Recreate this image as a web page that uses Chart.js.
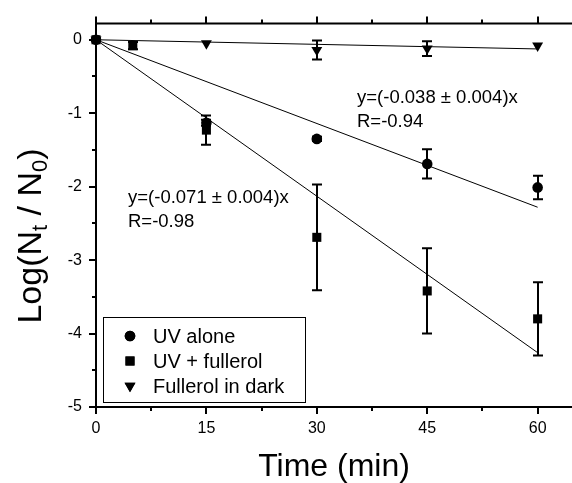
<!DOCTYPE html>
<html>
<head>
<meta charset="utf-8">
<script src="https://cdn.jsdelivr.net/npm/chart.js@4.4.1/dist/chart.umd.min.js"></script>
<style>
  html, body { margin: 0; padding: 0; background: #fff; }
  #wrap { width: 572px; height: 483px; position: relative; }
</style>
</head>
<body>
<div id="wrap"><canvas id="c"></canvas></div>
<script>
const FONT = '"Liberation Sans", Arial, sans-serif';

// axes
const xTicks = [0, 15, 30, 45, 60];
const xMinor = [7.5, 22.5, 37.5, 52.5];
const yTicks = [0, -1, -2, -3, -4, -5];
const yMinor = [-0.5, -1.5, -2.5, -3.5, -4.5];

// UV alone (circles)
const uvTime = [0, 15, 30, 45, 60];
const uvLog  = [0, -1.13, -1.35, -1.69, -2.01];
const uvErr  = [0, 0.04, 0.03, 0.20, 0.16];

// UV + fullerol (squares)
const fulTime = [0, 5, 15, 30, 45, 60];
const fulLog  = [0, -0.08, -1.23, -2.69, -3.42, -3.80];
const fulErr  = [0, 0.05, 0.20, 0.72, 0.58, 0.50];

// Fullerol in dark (down triangles)
const darkTime = [0, 15, 30, 45, 60];
const darkLog  = [0, -0.05, -0.14, -0.12, -0.08];
const darkErr  = [0, 0, 0.13, 0.10, 0];

// linear fits through origin
const fitTime = [0, 60];
const fitUv   = [0, -2.28];
const fitFul  = [0, -4.26];
const fitDark = [0, -0.125];

const legendItems = [
  { text: 'UV alone', style: 'circle', radius: 5.3, rotation: 0 },
  { text: 'UV + fullerol', style: 'rect', radius: 6.4, rotation: 0 },
  { text: 'Fullerol in dark', style: 'triangle', radius: 6.3, rotation: 180 },
];
const notes = [
  { lines: ['y=(-0.038 \u00b1 0.004)x', 'R=-0.94'], x: 357, y: 98 },
  { lines: ['y=(-0.071 \u00b1 0.004)x', 'R=-0.98'], x: 128, y: 198 },
];

const pts = (xs, ys) => xs.map((x, i) => ({ x, y: ys[i] }));

// frame + outward ticks (major and minor)
const frame = {
  id: 'frame',
  afterDraw(chart) {
    const { ctx, chartArea: a, scales: { x, y } } = chart;
    ctx.save();
    ctx.strokeStyle = '#000';
    ctx.lineWidth = 2;
    ctx.beginPath();
    ctx.moveTo(a.left, a.top); ctx.lineTo(chart.width, a.top);
    ctx.moveTo(a.left, a.top); ctx.lineTo(a.left, a.bottom);
    ctx.moveTo(a.left - 1, a.bottom); ctx.lineTo(chart.width, a.bottom);
    const xt = (v, len) => {
      const px = Math.round(x.getPixelForValue(v));
      ctx.moveTo(px, a.bottom); ctx.lineTo(px, a.bottom + len);
      ctx.moveTo(px, a.top); ctx.lineTo(px, a.top - len);
    };
    const yt = (v, len) => {
      const py = Math.round(y.getPixelForValue(v));
      ctx.moveTo(a.left, py); ctx.lineTo(a.left - len, py);
    };
    xTicks.forEach(v => xt(v, 7));
    xMinor.forEach(v => xt(v, 4));
    yTicks.forEach(v => yt(v, 7));
    yMinor.forEach(v => yt(v, 4));
    ctx.stroke();
    ctx.restore();
  }
};

const errorBars = {
  id: 'errorBars',
  afterDatasetsDraw(chart) {
    const { ctx, scales: { x, y } } = chart;
    ctx.save();
    ctx.strokeStyle = '#000';
    ctx.lineWidth = 2;
    chart.data.datasets.forEach(ds => {
      if (!ds.errors) return;
      ds.data.forEach((p, i) => {
        const e = ds.errors[i];
        if (!e) return;
        const px = Math.round(x.getPixelForValue(p.x));
        const top = y.getPixelForValue(p.y + e);
        const bot = y.getPixelForValue(p.y - e);
        ctx.beginPath();
        ctx.moveTo(px, top); ctx.lineTo(px, bot);
        ctx.moveTo(px - 5, top); ctx.lineTo(px + 5, top);
        ctx.moveTo(px - 5, bot); ctx.lineTo(px + 5, bot);
        ctx.stroke();
      });
    });
    ctx.restore();
  }
};

const texts = {
  id: 'texts',
  afterDraw(chart) {
    const { ctx } = chart;
    ctx.save();
    ctx.fillStyle = '#000';
    ctx.textBaseline = 'middle';

    // fit annotations
    ctx.font = '18.5px ' + FONT;
    ctx.textAlign = 'left';
    notes.forEach(n => n.lines.forEach((t, i) => ctx.fillText(t, n.x, n.y + i * 24)));

    // legend box
    ctx.strokeStyle = '#000';
    ctx.lineWidth = 1;
    ctx.strokeRect(103.5, 317.5, 202, 85);
    ctx.font = '20px ' + FONT;
    legendItems.forEach((it, i) => {
      const cy = 336 + i * 25;
      Chart.helpers.drawPoint(ctx, {
        pointStyle: it.style, radius: it.radius, rotation: it.rotation, borderWidth: 0
      }, 130, cy);
      ctx.fill();
      ctx.fillText(it.text, 153, cy + 1);
    });

    // x title
    ctx.font = '32px ' + FONT;
    ctx.textAlign = 'center';
    ctx.fillText('Time (min)', 334, 467);

    // y title with subscripts
    const parts = [
      { t: 'Log(N', sub: false }, { t: 't', sub: true },
      { t: ' / N', sub: false }, { t: '0', sub: true }, { t: ')', sub: false },
    ];
    const big = '34px ' + FONT, small = '22px ' + FONT;
    let total = 0;
    parts.forEach(p => { ctx.font = p.sub ? small : big; p.w = ctx.measureText(p.t).width; total += p.w; });
    ctx.translate(32, 236);
    ctx.rotate(-Math.PI / 2);
    ctx.textAlign = 'left';
    let cx = -total / 2;
    parts.forEach(p => {
      ctx.font = p.sub ? small : big;
      ctx.fillText(p.t, cx, p.sub ? 9 : 0);
      cx += p.w;
    });
    ctx.restore();
  }
};

const marker = (label, xs, ys, errs, style, radius, rotation) => ({
  label, data: pts(xs, ys), errors: errs,
  pointStyle: style, pointRadius: radius, pointRotation: rotation,
  backgroundColor: '#000', borderColor: '#000', borderWidth: 0,
  showLine: false, clip: false,
});
const fit = (ys) => ({
  data: pts(fitTime, ys), showLine: true, pointRadius: 0,
  borderColor: '#000', borderWidth: 1, fill: false,
});

new Chart(document.getElementById('c'), {
  type: 'scatter',
  data: {
    datasets: [
      fit(fitUv), fit(fitFul), fit(fitDark),
      marker('UV alone', uvTime, uvLog, uvErr, 'circle', 5.3, 0),
      marker('UV + fullerol', fulTime, fulLog, fulErr, 'rect', 6.4, 0),
      marker('Fullerol in dark', darkTime, darkLog, darkErr, 'triangle', 6.3, 180),
    ]
  },
  options: {
    responsive: true,
    maintainAspectRatio: false,
    animation: false,
    layout: { padding: { top: 20, right: 0, left: 0, bottom: 0 } },
    plugins: { legend: { display: false }, tooltip: { enabled: false } },
    scales: {
      x: {
        type: 'linear', min: 0, max: 63.8,
        afterBuildTicks: s => { s.ticks = xTicks.map(v => ({ value: v })); },
        afterFit: s => { s.height = 76; },
        grid: { display: false, drawTicks: false },
        border: { display: false },
        ticks: { color: '#000', font: { family: FONT, size: 16 }, padding: 12, maxRotation: 0 },
      },
      y: {
        type: 'linear', min: -5, max: 0.22,
        afterBuildTicks: s => { s.ticks = yTicks.map(v => ({ value: v })); },
        afterFit: s => { s.width = 96; },
        grid: { display: false, drawTicks: false },
        border: { display: false },
        ticks: { color: '#000', font: { family: FONT, size: 16 }, padding: 14 },
      },
    },
  },
  plugins: [frame, errorBars, texts],
});
</script>
</body>
</html>
